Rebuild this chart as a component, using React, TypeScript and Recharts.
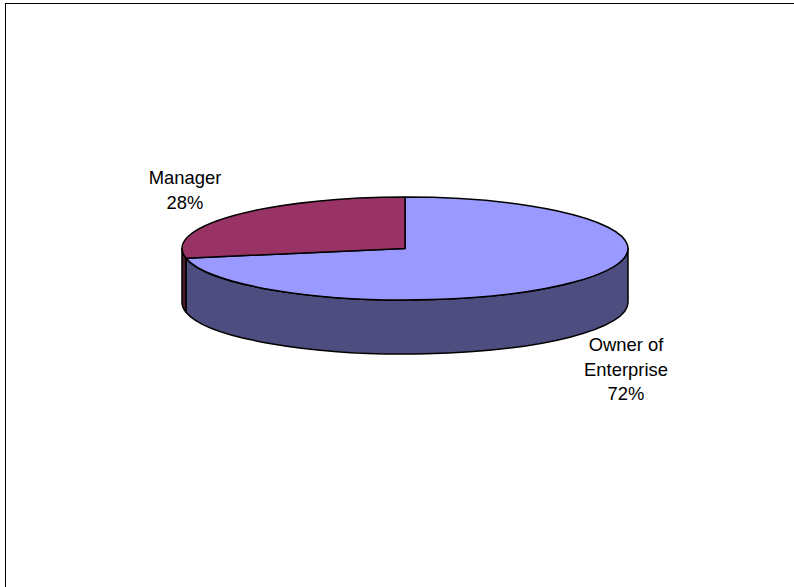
import { PieChart, Pie, Cell } from "recharts";

const categories = ["Owner of Enterprise", "Manager"];
const shares = [72, 28];
const topColors = ["#9999FF", "#993366"];
const sideColors = ["#4D4D80", "#4D1A33"];

const data = categories.map((name, i) => ({ name, value: shares[i] }));

const CX = 405;
const CY = 248.5;
const RX = 223;
const RY = 51.5;
const DEPTH = 54;

// first line of each label is centred on these points
const labelLines = [["Owner of", "Enterprise"], ["Manager"]];
const labelCentres = [
  { x: 626, y: 345 },
  { x: 185, y: 178 },
];

const rad = (deg: number) => (deg * Math.PI) / 180;
const px = (deg: number) => CX + RX * Math.cos(rad(deg));
const py = (deg: number) => CY - RY * Math.sin(rad(deg));

function SliceShape(props: any) {
  const { startAngle, endAngle, fill, index } = props;
  const large = Math.abs(startAngle - endAngle) > 180 ? 1 : 0;
  const top = `M${CX},${CY} L${px(startAngle)},${py(startAngle)} A${RX},${RY} 0 ${large} 1 ${px(endAngle)},${py(endAngle)} Z`;

  // only the front half of the rim can be seen
  const from = Math.min(startAngle, 0);
  const to = Math.max(endAngle, -180);
  let side = null;
  if (from > to) {
    const d = `M${px(from)},${py(from)} A${RX},${RY} 0 0 1 ${px(to)},${py(to)} L${px(to)},${py(to) + DEPTH} A${RX},${RY} 0 0 0 ${px(from)},${py(from) + DEPTH} Z`;
    side = <path d={d} fill={sideColors[index]} stroke="#000" strokeWidth={1.5} strokeLinejoin="round" />;
  }
  return (
    <g>
      {side}
      <path d={top} fill={fill} stroke="#000" strokeWidth={1.5} strokeLinejoin="round" />
    </g>
  );
}

function SliceLabel(props: any) {
  const { index, percent } = props;
  const lines = [...labelLines[index], `${Math.round(percent * 100)}%`];
  const c = labelCentres[index];
  return (
    <text
      x={c.x}
      y={c.y}
      textAnchor="middle"
      fontFamily="'Liberation Sans', Arial, sans-serif"
      fontSize={18.4}
      fill="#000"
    >
      {lines.map((line, i) => (
        <tspan key={line} x={c.x} y={c.y + i * 24.5} dy="0.35em">
          {line}
        </tspan>
      ))}
    </text>
  );
}

export default function App() {
  return (
    <div
      style={{
        position: "fixed",
        left: 0,
        top: 0,
        width: 794,
        height: 587,
        background: "#fff",
      }}
    >
      <div
        style={{
          position: "absolute",
          left: 5,
          top: 3,
          right: 0,
          bottom: 0,
          borderLeft: "1.5px solid #000",
          borderTop: "1.5px solid #000",
        }}
      />
      <PieChart width={794} height={587} margin={{ top: 0, right: 0, bottom: 0, left: 0 }}>
        <Pie
          data={data}
          dataKey="value"
          nameKey="name"
          cx={CX}
          cy={CY}
          outerRadius={RX}
          startAngle={90}
          endAngle={-270}
          paddingAngle={0}
          stroke="none"
          shape={SliceShape}
          label={SliceLabel}
          labelLine={false}
          isAnimationActive={false}
        >
          {data.map((d, i) => (
            <Cell key={d.name} fill={topColors[i]} />
          ))}
        </Pie>
      </PieChart>
    </div>
  );
}
